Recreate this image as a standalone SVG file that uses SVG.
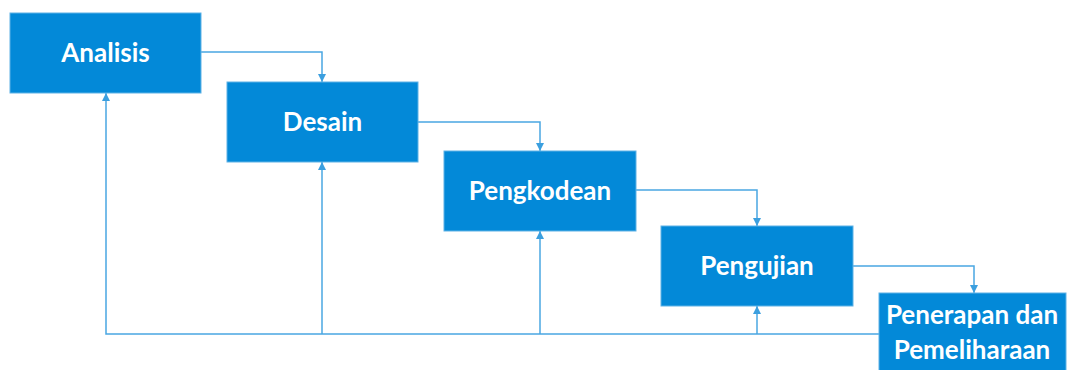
<svg xmlns="http://www.w3.org/2000/svg" width="1067" height="370" viewBox="0 0 1067 370">
  <style>
    .box { fill: #0389d8; stroke: #5fb2e6; stroke-width: 1; }
    .lbl { fill: #ffffff; font-family: Lato, "Open Sans", "Liberation Sans", sans-serif; font-weight: bold; font-size: 26px; text-anchor: middle; }
    .link { fill: none; stroke: #4aa7e2; stroke-width: 1.5; }
  </style>
  <defs>
    <marker id="arrow" viewBox="0 0 8 8" refX="8" refY="4" markerWidth="8" markerHeight="8" markerUnits="userSpaceOnUse" orient="auto">
      <path d="M0,0 L8,4 L0,8 Z" fill="#3b9fdf"/>
    </marker>
  </defs>

  <g id="connectors">
    <!-- forward flow between phases -->
    <path class="link" d="M201,52 H322 V82" marker-end="url(#arrow)"/>
    <path class="link" d="M418,122 H540 V151" marker-end="url(#arrow)"/>
    <path class="link" d="M636,190 H757 V226" marker-end="url(#arrow)"/>
    <path class="link" d="M853,266 H974 V293" marker-end="url(#arrow)"/>
    <!-- feedback line back to each earlier phase -->
    <path class="link" d="M879,334 H106 V93" marker-end="url(#arrow)"/>
    <path class="link" d="M322,334 V162" marker-end="url(#arrow)"/>
    <path class="link" d="M540,334 V231" marker-end="url(#arrow)"/>
    <path class="link" d="M757,334 V306" marker-end="url(#arrow)"/>
  </g>

  <g id="analisis">
    <rect class="box" x="10" y="13" width="191" height="80"/>
    <text class="lbl" x="105.5" y="62">Analisis</text>
  </g>
  <g id="desain">
    <rect class="box" x="227" y="82" width="191" height="80"/>
    <text class="lbl" x="322.5" y="131">Desain</text>
  </g>
  <g id="pengkodean">
    <rect class="box" x="444" y="151" width="192" height="80"/>
    <text class="lbl" x="540" y="200">Pengkodean</text>
  </g>
  <g id="pengujian">
    <rect class="box" x="661" y="226" width="192" height="80"/>
    <text class="lbl" x="757" y="275">Pengujian</text>
  </g>
  <g id="penerapan">
    <rect class="box" x="879" y="293" width="187" height="80"/>
    <text class="lbl" x="972" y="324">Penerapan dan</text>
    <text class="lbl" x="972" y="359">Pemeliharaan</text>
  </g>
</svg>
